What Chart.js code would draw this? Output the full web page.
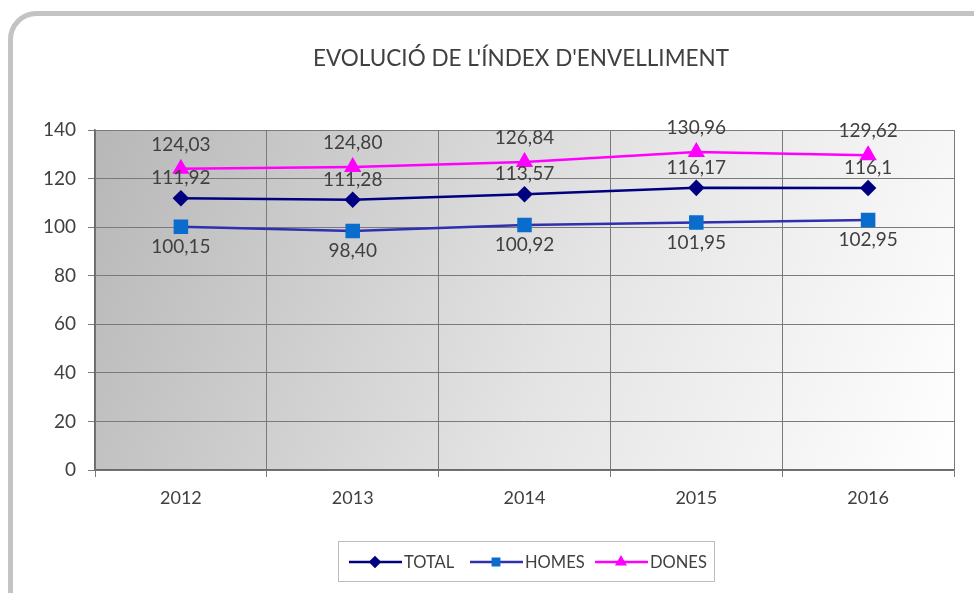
<!DOCTYPE html>
<html>
<head>
<meta charset="utf-8">
<script src="https://cdn.jsdelivr.net/npm/chart.js@4.4.1/dist/chart.umd.min.js"></script>
<style>
  html, body { margin: 0; padding: 0; background: #ffffff; }
  #wrap { position: relative; width: 974px; height: 593px; }
</style>
</head>
<body>
<div id="wrap"><canvas id="indexChart" width="974" height="593"></canvas></div>
<script>
const years = ['2012', '2013', '2014', '2015', '2016'];
const totalValues = [111.92, 111.28, 113.57, 116.17, 116.1];
const homesValues = [100.15, 98.40, 100.92, 101.95, 102.95];
const donesValues = [124.03, 124.80, 126.84, 130.96, 129.62];
const totalLabels = ['111,92', '111,28', '113,57', '116,17', '116,1'];
const homesLabels = ['100,15', '98,40', '100,92', '101,95', '102,95'];
const donesLabels = ['124,03', '124,80', '126,84', '130,96', '129,62'];
const chartTitle = "EVOLUCIÓ DE L'ÍNDEX D'ENVELLIMENT";

const FONT = 'Lato, "Open Sans", sans-serif';
const TEXT = '#404040';

// outer frame, plot background and title
const framePlugin = {
    id: 'frame',
    beforeDraw(chart) {
        const ctx = chart.ctx;
        const a = chart.chartArea;
        ctx.save();
        ctx.fillStyle = '#ffffff';
        ctx.fillRect(0, 0, chart.width, chart.height);
        ctx.strokeStyle = '#c3c3c3';
        ctx.lineWidth = 5;
        ctx.beginPath();
        ctx.roundRect(10.5, 13.5, 1000, 620, 26);
        ctx.stroke();

        const g = ctx.createLinearGradient(a.left, a.top, a.right, a.bottom);
        g.addColorStop(0, '#b7b7b7');
        g.addColorStop(0.55, '#e4e4e4');
        g.addColorStop(1, '#ffffff');
        ctx.fillStyle = g;
        ctx.fillRect(a.left, a.top, a.right - a.left, a.bottom - a.top);

        ctx.fillStyle = TEXT;
        ctx.font = '22.5px ' + FONT;
        ctx.textAlign = 'center';
        ctx.textBaseline = 'middle';
        ctx.fillText(chartTitle, 521, 59);
        ctx.restore();
    }
};

// value labels next to each point
const valueLabelPlugin = {
    id: 'valueLabels',
    afterDatasetsDraw(chart) {
        const ctx = chart.ctx;
        ctx.save();
        ctx.font = '19px ' + FONT;
        ctx.fillStyle = TEXT;
        ctx.textAlign = 'center';
        ctx.textBaseline = 'middle';
        chart.data.datasets.forEach((ds, i) => {
            const meta = chart.getDatasetMeta(i);
            meta.data.forEach((pt, j) => {
                ctx.fillText(ds.valueText[j], pt.x, pt.y + ds.labelOffset);
            });
        });
        ctx.restore();
    }
};

// boxed legend at the bottom, line + marker like the original
const legendPlugin = {
    id: 'boxLegend',
    afterDraw(chart) {
        const ctx = chart.ctx;
        ctx.save();
        ctx.strokeStyle = '#bdbdbd';
        ctx.lineWidth = 1;
        ctx.strokeRect(338.5, 541.5, 376, 40);
        const starts = [349, 470, 595];
        const cy = 562;
        ctx.font = '16.5px ' + FONT;
        ctx.textBaseline = 'middle';
        ctx.textAlign = 'left';
        chart.data.datasets.forEach((ds, i) => {
            const x0 = starts[i];
            ctx.strokeStyle = ds.borderColor;
            ctx.lineWidth = 2.5;
            ctx.beginPath();
            ctx.moveTo(x0, cy);
            ctx.lineTo(x0 + 53, cy);
            ctx.stroke();
            ctx.fillStyle = ds.pointBackgroundColor;
            ctx.strokeStyle = ds.pointBorderColor;
            Chart.helpers.drawPoint(ctx, {
                pointStyle: ds.pointStyle,
                radius: 4.5,
                rotation: 0,
                borderWidth: 1
            }, x0 + 26, cy);
            ctx.fillStyle = TEXT;
            ctx.fillText(ds.label, x0 + 55, cy + 1);
        });
        ctx.restore();
    }
};

new Chart(document.getElementById('indexChart'), {
    type: 'line',
    data: {
        labels: years,
        datasets: [{
            label: 'TOTAL',
            data: totalValues,
            valueText: totalLabels,
            labelOffset: -20,
            borderColor: '#000080',
            borderWidth: 2.5,
            pointStyle: 'rectRot',
            pointRadius: 6.5,
            pointBackgroundColor: '#000080',
            pointBorderColor: '#000080'
        }, {
            label: 'HOMES',
            data: homesValues,
            valueText: homesLabels,
            labelOffset: 20,
            borderColor: '#2f2fb0',
            borderWidth: 2.5,
            pointStyle: 'rect',
            pointRadius: 8.5,
            pointBackgroundColor: '#0a6ccc',
            pointBorderColor: '#0a6ccc'
        }, {
            label: 'DONES',
            data: donesValues,
            valueText: donesLabels,
            labelOffset: -24,
            borderColor: '#ff00ff',
            borderWidth: 2.5,
            pointStyle: 'triangle',
            pointRadius: 7.5,
            pointBackgroundColor: '#ff00ff',
            pointBorderColor: '#ff00ff'
        }]
    },
    options: {
        responsive: false,
        animation: false,
        layout: { padding: { left: 15, right: 20, top: 130, bottom: 73 } },
        plugins: {
            legend: { display: false },
            title: { display: false },
            tooltip: { enabled: false }
        },
        scales: {
            x: {
                offset: true,
                afterFit(s) { s.height = 50; },
                grid: { offset: true, color: '#7a7a7a', lineWidth: 1, tickLength: 7 },
                border: { color: '#6a6a6a', width: 1.5 },
                ticks: { color: TEXT, font: { family: FONT, size: 18 }, padding: 10 }
            },
            y: {
                min: 0,
                max: 140,
                afterFit(s) { s.width = 80; },
                grid: { color: '#7a7a7a', lineWidth: 1, tickLength: 7 },
                border: { color: '#6a6a6a', width: 1.5 },
                ticks: { stepSize: 20, color: TEXT, font: { family: FONT, size: 19 }, padding: 12 }
            }
        }
    },
    plugins: [framePlugin, valueLabelPlugin, legendPlugin]
});
</script>
</body>
</html>
